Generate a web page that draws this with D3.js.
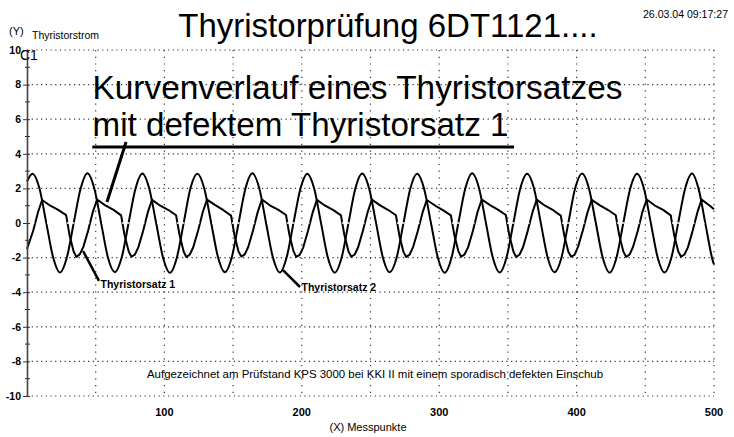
<!DOCTYPE html>
<html>
<head>
<meta charset="utf-8">
<script src="https://cdnjs.cloudflare.com/ajax/libs/d3/7.8.5/d3.min.js"></script>
<style>
  body { margin: 0; background: #fff; }
  svg { display: block; font-family: "Liberation Sans", Arial, sans-serif; }
</style>
</head>
<body>
<script>
/*
  Thyristorpruefung - Thyristorstrom ueber Messpunkte
*/

// axis values
var yTicks = [-10, -8, -6, -4, -2, 0, 2, 4, 6, 8, 10];
var yMinor = [-9, -7, -5, -3, -1, 1, 3, 5, 7, 9];
var xTicks = [100, 200, 300, 400, 500];
var xGrid = [50, 100, 150, 200, 250, 300, 350, 400, 450, 500];

// Thyristorsatz 2 (intact, sine like)
var satz2X = [0,
  4, 9, 14, 19, 24, 29, 34, 39,
  44, 49, 54, 59, 64, 69, 74, 79,
  84, 89, 94, 99, 104, 109, 114, 119,
  124, 129, 134, 139, 144, 149, 154, 159,
  164, 169, 174, 179, 184, 189, 194, 199,
  204, 209, 214, 219, 224, 229, 234, 239,
  244, 249, 254, 259, 264, 269, 274, 279,
  284, 289, 294, 299, 304, 309, 314, 319,
  324, 329, 334, 339, 344, 349, 354, 359,
  364, 369, 374, 379, 384, 389, 394, 399,
  404, 409, 414, 419, 424, 429, 434, 439,
  444, 449, 454, 459, 464, 469, 474, 479,
  484, 489, 494, 499, 500];
var satz2Y = [2.4,
  2.85, 2.02, 0.02, -1.98, -2.86, -2.0, 0.0, 1.98,
  2.88, 2.0, -0.02, -2.02, -2.84, -1.97, 0.03, 2.0,
  2.86, 1.98, 0.0, -2.0, -2.88, -2.02, -0.02, 2.02,
  2.84, 2.0, 0.03, -1.97, -2.85, -2.0, 0.0, 2.0,
  2.87, 2.02, 0.0, -2.0, -2.86, -1.98, 0.02, 1.98,
  2.85, 1.99, -0.01, -2.01, -2.87, -2.0, 0.0, 2.01,
  2.86, 2.0, 0.02, -1.99, -2.85, -2.01, -0.01, 2.0,
  2.84, 1.98, 0.0, -2.0, -2.88, -2.0, 0.02, 1.99,
  2.87, 2.01, 0.01, -2.0, -2.86, -1.99, 0.0, 2.0,
  2.85, 2.0, -0.02, -2.02, -2.85, -2.0, 0.01, 2.02,
  2.86, 2.0, 0.0, -2.0, -2.87, -2.01, 0.0, 1.98,
  2.84, 1.99, 0.01, -1.99, -2.86, -2.0, 0.02, 2.0,
  2.86, 1.9, -0.15, -2.15, -2.4];

// Thyristorsatz 1 (defective, sawtooth like)
var satz1X = [0, 4.5, 8, 11, 17, 23, 28.5, 31, 34, 36, 38.5,
  41, 44.5, 48, 51, 57, 63, 68.5, 71, 74, 76, 78.5,
  81, 84.5, 88, 91, 97, 103, 108.5, 111, 114, 116, 118.5,
  121, 124.5, 128, 131, 137, 143, 148.5, 151, 154, 156, 158.5,
  161, 164.5, 168, 171, 177, 183, 188.5, 191, 194, 196, 198.5,
  201, 204.5, 208, 211, 217, 223, 228.5, 231, 234, 236, 238.5,
  241, 244.5, 248, 251, 257, 263, 268.5, 271, 274, 276, 278.5,
  281, 284.5, 288, 291, 297, 303, 308.5, 311, 314, 316, 318.5,
  321, 324.5, 328, 331, 337, 343, 348.5, 351, 354, 356, 358.5,
  361, 364.5, 368, 371, 377, 383, 388.5, 391, 394, 396, 398.5,
  401, 404.5, 408, 411, 417, 423, 428.5, 431, 434, 436, 438.5,
  441, 444.5, 448, 451, 457, 463, 468.5, 471, 474, 476, 478.5,
  481, 484.5, 488, 491, 497, 500];
var satz1Y = [-1.5, -0.45, 0.62, 1.33, 1.0, 0.74, 0.46, -0.72, -1.66, -1.96, -1.8,
  -1.38, -0.44, 0.66, 1.36, 1.02, 0.76, 0.44, -0.7, -1.64, -1.95, -1.83,
  -1.41, -0.46, 0.64, 1.34, 1.0, 0.75, 0.45, -0.68, -1.65, -1.97, -1.82,
  -1.4, -0.45, 0.65, 1.35, 1.03, 0.74, 0.43, -0.71, -1.66, -1.94, -1.81,
  -1.39, -0.43, 0.66, 1.36, 1.01, 0.76, 0.46, -0.69, -1.64, -1.96, -1.84,
  -1.42, -0.46, 0.63, 1.34, 1.0, 0.74, 0.44, -0.7, -1.65, -1.95, -1.82,
  -1.4, -0.44, 0.65, 1.35, 1.02, 0.75, 0.45, -0.72, -1.67, -1.96, -1.83,
  -1.39, -0.45, 0.64, 1.33, 1.01, 0.73, 0.44, -0.69, -1.64, -1.95, -1.81,
  -1.41, -0.46, 0.66, 1.36, 1.03, 0.76, 0.46, -0.7, -1.65, -1.97, -1.82,
  -1.4, -0.44, 0.65, 1.35, 1.0, 0.74, 0.43, -0.71, -1.66, -1.95, -1.84,
  -1.38, -0.45, 0.63, 1.34, 1.02, 0.75, 0.45, -0.7, -1.64, -1.96, -1.83,
  -1.4, -0.46, 0.66, 1.36, 1.01, 0.76, 0.44, -0.69, -1.65, -1.95, -1.82,
  -1.41, -0.44, 0.64, 1.35, 1.0, 0.8];

function drawChart(){
  var W = 734, H = 437;

  var x = d3.scaleLinear().domain([0, 500]).range([27, 714]);
  var y = d3.scaleLinear().domain([-10, 10]).range([396, 50]);

  var svg = d3.select("body").append("svg")
      .attr("width", W)
      .attr("height", H);

  svg.append("rect").attr("width", W).attr("height", H).attr("fill", "#fff");

  // dotted grid
  svg.append("g").selectAll("line")
      .data(yTicks.filter(function(d){ return d !== 0; }))
    .enter().append("line")
      .attr("x1", x(0)).attr("x2", x(500))
      .attr("y1", function(d){ return y(d); })
      .attr("y2", function(d){ return y(d); })
      .attr("stroke", "#333")
      .attr("stroke-width", 1.2)
      .attr("stroke-dasharray", "1.2,3.5");

  svg.append("g").selectAll("line")
      .data(xGrid)
    .enter().append("line")
      .attr("x1", function(d){ return x(d); })
      .attr("x2", function(d){ return x(d); })
      .attr("y1", y(10)).attr("y2", y(-10))
      .attr("stroke", "#333")
      .attr("stroke-width", 1.2)
      .attr("stroke-dasharray", "1.2,5.5");

  // the two traces
  var smooth = d3.line()
      .x(function(d){ return x(d[0]); })
      .y(function(d){ return y(d[1]); })
      .curve(d3.curveMonotoneX);
  var straight = d3.line()
      .x(function(d){ return x(d[0]); })
      .y(function(d){ return y(d[1]); });

  svg.append("path")
      .datum(d3.zip(satz2X, satz2Y))
      .attr("fill", "none")
      .attr("stroke", "#000")
      .attr("stroke-width", 2)
      .attr("stroke-linejoin", "round")
      .attr("d", smooth);

  svg.append("path")
      .datum(d3.zip(satz1X, satz1Y))
      .attr("fill", "none")
      .attr("stroke", "#000")
      .attr("stroke-width", 2)
      .attr("stroke-linejoin", "round")
      .attr("d", straight);

  // zero line is drawn white over the curves
  svg.append("line")
      .attr("x1", x(0)).attr("x2", x(500))
      .attr("y1", y(0)).attr("y2", y(0))
      .attr("stroke", "#fff")
      .attr("stroke-width", 1.5)
      .attr("stroke-dasharray", "2.5,2.5");

  // y axis
  var yAxis = svg.append("g")
      .attr("transform", "translate(" + x(0) + ",0)")
      .call(d3.axisLeft(y).tickValues(yTicks)
        .tickFormat(function(d){ return String(d); })
        .tickSizeInner(4).tickSizeOuter(0).tickPadding(2));
  yAxis.select(".domain").attr("stroke", "#444").attr("stroke-width", 1.6);
  yAxis.selectAll(".tick line").attr("stroke", "#333").attr("x2", -4).attr("x1", 3);
  yAxis.selectAll("text")
      .attr("font-family", "Liberation Sans, Arial, sans-serif")
      .attr("font-size", 10.5)
      .attr("font-weight", "bold")
      .attr("fill", "#000");

  svg.append("g").selectAll("line")
      .data(yMinor)
    .enter().append("line")
      .attr("x1", x(0) - 2).attr("x2", x(0) + 3)
      .attr("y1", function(d){ return y(d); })
      .attr("y2", function(d){ return y(d); })
      .attr("stroke", "#333");

  // x tick labels (no axis line)
  svg.append("g").selectAll("text")
      .data(xTicks)
    .enter().append("text")
      .attr("x", function(d){ return x(d); })
      .attr("y", 416)
      .attr("text-anchor", "middle")
      .attr("font-size", 11)
      .attr("font-weight", "bold")
      .text(function(d){ return d; });

  // texts
  svg.append("text")
      .attr("x", 388).attr("y", 37)
      .attr("text-anchor", "middle")
      .attr("font-size", 33)
      .text("Thyristorprüfung 6DT1121....");

  svg.append("text")
      .attr("x", 728).attr("y", 18)
      .attr("text-anchor", "end")
      .attr("font-size", 10)
      .attr("textLength", 85)
      .attr("lengthAdjust", "spacingAndGlyphs")
      .text("26.03.04 09:17:27");

  svg.append("text").attr("x", 9).attr("y", 35).attr("font-size", 11).text("(Y)");
  svg.append("text").attr("x", 32).attr("y", 39).attr("font-size", 10.5).text("Thyristorstrom");
  svg.append("text").attr("x", 20).attr("y", 60).attr("font-size", 14).text("C1");

  svg.append("text")
      .attr("x", 368).attr("y", 431)
      .attr("text-anchor", "middle")
      .attr("font-size", 11)
      .text("(X) Messpunkte");

  svg.append("text")
      .attr("x", 375).attr("y", 378)
      .attr("text-anchor", "middle")
      .attr("font-size", 11)
      .attr("textLength", 456)
      .attr("lengthAdjust", "spacingAndGlyphs")
      .text("Aufgezeichnet am Prüfstand KPS 3000 bei KKI II mit einem sporadisch defekten Einschub");

  // big annotation
  svg.append("text")
      .attr("x", x(47.7)).attr("y", y(7.17))
      .attr("font-size", 33)
      .attr("textLength", 530)
      .attr("lengthAdjust", "spacingAndGlyphs")
      .text("Kurvenverlauf eines Thyristorsatzes");
  svg.append("text")
      .attr("x", x(47.7)).attr("y", y(5.03))
      .attr("font-size", 33)
      .attr("textLength", 416)
      .attr("lengthAdjust", "spacingAndGlyphs")
      .text("mit defektem Thyristorsatz 1");
  svg.append("line")
      .attr("x1", x(47.5)).attr("x2", x(354.5))
      .attr("y1", y(4.39)).attr("y2", y(4.39))
      .attr("stroke", "#000").attr("stroke-width", 3);
  svg.append("line")
      .attr("x1", x(72.1)).attr("y1", y(4.68))
      .attr("x2", x(58.2)).attr("y2", y(1.21))
      .attr("stroke", "#000").attr("stroke-width", 3);

  // series labels with leaders
  svg.append("line")
      .attr("x1", x(40.8)).attr("y1", y(-1.62))
      .attr("x2", x(52.4)).attr("y2", y(-3.35))
      .attr("stroke", "#000").attr("stroke-width", 2.5);
  svg.append("text")
      .attr("x", x(53.5)).attr("y", y(-3.78))
      .attr("font-size", 10.5)
      .attr("font-weight", "bold")
      .text("Thyristorsatz 1");

  svg.append("line")
      .attr("x1", x(186.3)).attr("y1", y(-2.72))
      .attr("x2", x(198.7)).attr("y2", y(-3.7))
      .attr("stroke", "#000").attr("stroke-width", 2.5);
  svg.append("text")
      .attr("x", x(199.8)).attr("y", y(-3.95))
      .attr("font-size", 10.5)
      .attr("font-weight", "bold")
      .text("Thyristorsatz 2");
}

drawChart();
</script>
</body>
</html>
